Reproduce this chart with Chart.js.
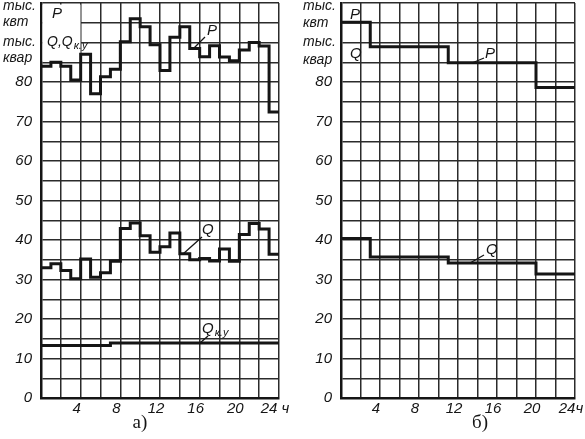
<!DOCTYPE html>
<html>
<head>
<meta charset="utf-8">
<script src="https://cdn.jsdelivr.net/npm/chart.js@4"></script>
<style>
  html, body { margin: 0; padding: 0; background: #fff; }
  #wrap { position: relative; width: 585px; height: 439px; overflow: hidden; }
  canvas { position: absolute; top: 0; }
  #ca { left: 0; }
  #cb { left: 290px; }
</style>
</head>
<body>
<div id="wrap">
  <canvas id="ca" width="298" height="439"></canvas>
  <canvas id="cb" width="295" height="439"></canvas>
</div>
<script>
// а) hourly graph, values in thousands
const hoursA = [0,1,2,3,4,5,6,7,8,9,10,11,12,13,14,15,16,17,18,19,20,21,22,23];
const pA   = [84,85,84,80.5,87,77,81.3,83.2,90.2,96,94,89.4,82.9,91.3,94,88.5,86.4,89.2,86.3,85.4,88.1,90,89.1,72.4];
const qA   = [33,34,32.3,30.2,35.2,30.6,31.7,34.6,42.9,44.3,41.1,36.9,38.3,41.8,36.5,35,35.3,34.7,37.7,34.6,41.4,44.2,42.8,36.4];
const qkuA = [13.3,13.3,13.3,13.3,13.3,13.3,13.3,13.9,13.9,13.9,13.9,13.9,13.9,13.9,13.9,13.9,13.9,13.9,13.9,13.9,13.9,13.9,13.9,13.9];

// б) simplified graph
const hoursB = [0,3,11,20];
const pB = [95.1,88.9,84.9,78.6];
const qB = [40.4,35.7,34.2,31.4];

const yTicks = [0,10,20,30,40,50,60,70,80];
const xTicks = [4,8,12,16,20];

function steps(hours, vals) {
  const pts = hours.map((h, i) => ({x: h, y: vals[i]}));
  pts.push({x: 24, y: vals[vals.length - 1]});
  return pts;
}

const ink = '#151515';
const tickFont = {family: "'Liberation Sans', Arial, sans-serif", size: 15, style: 'italic'};

function lineSet(data) {
  return {data, stepped: true, borderColor: ink, borderWidth: 3, pointRadius: 0, fill: false};
}

function drawNotes(ctx, off, notes) {
  ctx.save();
  ctx.fillStyle = ink;
  ctx.strokeStyle = ink;
  ctx.textBaseline = 'middle';
  ctx.textAlign = 'left';
  notes.forEach(n => {
    if (n.line) {
      ctx.lineWidth = 1.3;
      ctx.beginPath();
      ctx.moveTo(n.line[0] - off, n.line[1]);
      ctx.lineTo(n.line[2] - off, n.line[3]);
      ctx.stroke();
      return;
    }
    ctx.font = n.font || "italic 14px 'Liberation Sans', Arial, sans-serif";
    ctx.textAlign = n.align || 'left';
    ctx.fillText(n.t, n.x - off, n.y);
    if (n.sub) {
      const w = ctx.measureText(n.t).width;
      ctx.font = "italic 11px 'Liberation Sans', Arial, sans-serif";
      ctx.fillText(n.sub, n.x - off + w + 1, n.y + 4);
    }
  });
  ctx.restore();
}

const bigFont = "italic 15px 'Liberation Sans', Arial, sans-serif";
const serifFont = "19px 'Liberation Serif', 'Times New Roman', serif";

const notesA = [
  {t: 'тыс.', x: 3, y: 6},
  {t: 'квт', x: 3, y: 22},
  {t: 'тыс.', x: 3, y: 42},
  {t: 'квар', x: 3, y: 58},
  {t: 'P', x: 52, y: 14, font: bigFont},
  {t: 'Q,Q', x: 47, y: 42, sub: 'к.у'},
  {t: 'P', x: 207, y: 31, font: bigFont},
  {line: [205, 37, 194, 48]},
  {t: 'Q', x: 202, y: 230, font: bigFont},
  {line: [202, 237, 183, 254]},
  {t: 'Q', x: 202, y: 329, font: bigFont, sub: 'к.у'},
  {line: [208, 336, 200, 343]},
  {t: 'а)', x: 140, y: 423, font: serifFont, align: 'center'}
];

const notesB = [
  {t: 'тыс.', x: 303, y: 6},
  {t: 'квт', x: 303, y: 23},
  {t: 'тыс.', x: 303, y: 42},
  {t: 'квар', x: 303, y: 60},
  {t: 'P', x: 350, y: 15, font: bigFont},
  {t: 'Q', x: 350, y: 54, font: bigFont},
  {t: 'P', x: 485, y: 54, font: bigFont},
  {line: [484, 58, 472, 63]},
  {t: 'Q', x: 486, y: 250, font: bigFont},
  {line: [484, 255, 470, 263]},
  {t: 'б)', x: 480, y: 423, font: serifFont, align: 'center'}
];

function makeChart(id, off, sets, axisW, padRight, lastLabel, notes, box) {
  return new Chart(document.getElementById(id), {
    type: 'line',
    data: {datasets: sets.map(lineSet)},
    options: {
      responsive: false,
      animation: false,
      layout: {padding: {top: 3, right: padRight, left: 0, bottom: 0}},
      plugins: {legend: {display: false}, tooltip: {enabled: false}},
      scales: {
        x: {
          type: 'linear', min: 0, max: 24,
          grid: {color: '#2b2b2b', lineWidth: 1.5, drawTicks: false},
          border: {color: ink, width: 2.5},
          ticks: {
            stepSize: 2, autoSkip: false, maxRotation: 0, padding: 2, labelOffset: -4,
            color: ink, font: tickFont,
            callback: v => v === 24 ? lastLabel : (xTicks.includes(v) ? String(v) : '')
          },
          afterFit: s => { s.height = 41; s.paddingLeft = 0; s.paddingRight = 0; }
        },
        y: {
          min: 0, max: 100,
          grid: {color: '#2b2b2b', lineWidth: 1.5, drawTicks: false},
          border: {color: ink, width: 2.5},
          ticks: {
            stepSize: 5, autoSkip: false, padding: 9, color: ink, font: tickFont,
            callback: v => yTicks.includes(v) ? String(v) : ''
          },
          afterFit: s => { s.width = axisW; s.paddingTop = 0; s.paddingBottom = 0; }
        }
      }
    },
    plugins: [{
      id: 'notes',
      beforeDatasetsDraw(chart) {
        if (box) {
          const c = chart.ctx;
          c.save();
          c.fillStyle = '#fff';
          c.fillRect(box[0] - off, box[1], box[2], box[3]);
          c.restore();
        }
      },
      afterDraw(chart) { drawNotes(chart.ctx, off, notes); }
    }]
  });
}

makeChart('ca', 0,
  [steps(hoursA, pA), steps(hoursA, qA), steps(hoursA, qkuA)],
  41, 19, '24 ч', notesA, [42.5, 4.5, 38, 57]);

makeChart('cb', 290,
  [steps(hoursB, pB), steps(hoursB, qB)],
  51, 10, '24ч', notesB, null);
</script>
</body>
</html>
